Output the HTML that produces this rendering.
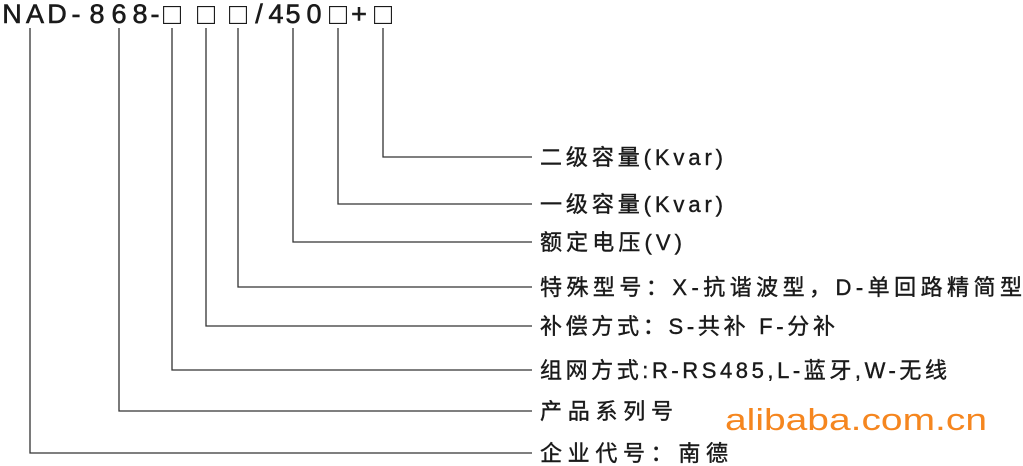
<!DOCTYPE html>
<html><head><meta charset="utf-8"><style>
html,body{margin:0;padding:0;background:#fff;}
svg{display:block;}
text{font-family:"Liberation Sans","Noto Sans CJK SC",sans-serif;fill:#1a1a1a;}
.h{stroke:#1a1a1a;stroke-width:0.6;}
.t{stroke:#1a1a1a;stroke-width:0.4;}
</style></head><body>
<svg width="1023" height="466" viewBox="0 0 1023 466" xmlns="http://www.w3.org/2000/svg">
<g font-size="27" text-anchor="middle" class="h">
<text x="12" y="23">N</text><text x="35" y="23">A</text><text x="57" y="23">D</text><text x="76" y="23">-</text>
<text x="97" y="23">8</text><text x="119" y="23">6</text><text x="140" y="23">8</text><text x="155" y="23">-</text>
<text x="259" y="23">/</text>
<text x="276" y="23">4</text><text x="293" y="23">5</text><text x="314" y="23">0</text>
<text x="359" y="23">+</text>
</g>
<g font-size="30" text-anchor="middle" style="fill:#333">
<text x="172" y="24">□</text><text x="206" y="24">□</text><text x="238" y="24">□</text><text x="338" y="24">□</text><text x="383" y="24">□</text>
</g>
<g stroke="#333" stroke-width="1.3" fill="none">
<polyline points="383,28 383,157 532,157"/>
<polyline points="338,28 338,204 532,204"/>
<polyline points="293,28 293,242 532,242"/>
<polyline points="238,28 238,287 532,287"/>
<polyline points="206,28 206,326 532,326"/>
<polyline points="172,28 172,370 532,370"/>
<polyline points="119,28 119,411 532,411"/>
<polyline points="30,28 30,453 532,453"/>
</g>
<g font-size="22" class="t">
<text x="540" y="165" textLength="183" lengthAdjust="spacing">二级容量(Kvar)</text>
<text x="540" y="212" textLength="183" lengthAdjust="spacing">一级容量(Kvar)</text>
<text x="540" y="250" textLength="142" lengthAdjust="spacing">额定电压(V)</text>
<text x="540" y="295" textLength="482" lengthAdjust="spacing">特殊型号：X-抗谐波型，D-单回路精简型</text>
<text x="540" y="334" textLength="295" lengthAdjust="spacing">补偿方式：S-共补 F-分补</text>
<text x="540" y="378" textLength="407" lengthAdjust="spacing">组网方式:R-RS485,L-蓝牙,W-无线</text>
<text x="540" y="419" textLength="133" lengthAdjust="spacing">产品系列号</text>
<text x="540" y="461" textLength="188" lengthAdjust="spacing">企业代号：南德</text>
</g>
<text x="725" y="430" font-size="31" textLength="262" lengthAdjust="spacingAndGlyphs" style="fill:#f5861f">alibaba.com.cn</text>
</svg>
</body></html>
